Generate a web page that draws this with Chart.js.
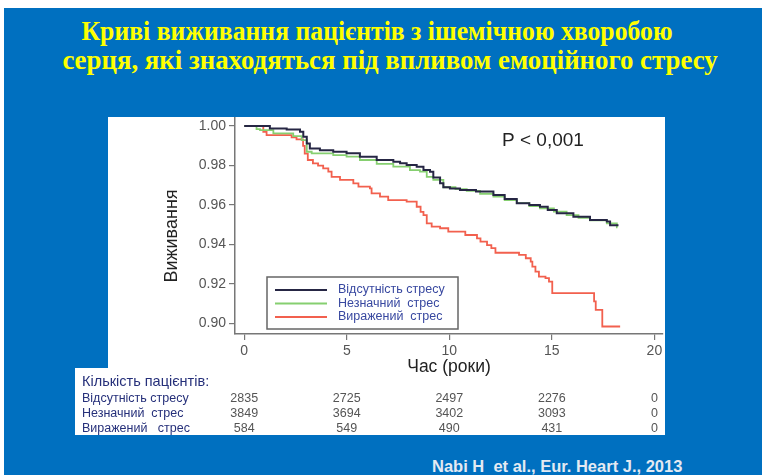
<!DOCTYPE html>
<html>
<head>
<meta charset="utf-8">
<script src="https://cdn.jsdelivr.net/npm/chart.js@4"></script>
<style>
  body { margin:0; width:762px; height:475px; overflow:hidden; position:relative; background:#fff; font-family:Arial, "Liberation Sans", sans-serif; }
  #slide { position:absolute; left:4px; top:8px; width:758px; height:467px; background:#0070c0; }
  .title { position:absolute; width:762px; text-align:center; color:#ffff00; font:bold 28px "Liberation Serif", "Times New Roman", serif; line-height:30px; white-space:nowrap; transform-origin:50% 50%; }
  .panel { position:absolute; background:#fff; }
  #chartBox { position:absolute; left:108px; top:117px; }
  .tbl { position:absolute; white-space:pre; color:#26307a; }
  .num { position:absolute; width:50px; margin-left:-25px; text-align:center; color:#555; font-size:12.5px; }
  #cite { position:absolute; left:432px; top:457px; color:#e4eaf2; font:bold 16.5px Arial, "Liberation Sans", sans-serif; white-space:pre; }
</style>
</head>
<body>
<div id="slide"></div>
<div class="title" style="left:-4px;top:16px;transform:scaleX(0.918)">Криві виживання пацієнтів з ішемічною хворобою</div>
<div class="title" style="left:9px;top:45px;transform:scaleX(0.958)">серця, які знаходяться під впливом емоційного стресу</div>
<div class="panel" style="left:108px;top:117px;width:557px;height:251px"></div>
<div class="panel" style="left:75px;top:368px;width:590px;height:67px"></div>
<div id="chartBox"><canvas id="km" width="557" height="265"></canvas></div>
<div id="table"></div>
<div id="cite">Nabi H  et al., Eur. Heart J., 2013</div>
<script>
// time in years, survival
const noStressT = [0, 1.25, 2.07, 2.72, 2.88, 3.05, 3.2, 3.69, 4.34, 4.99, 5.64, 6.46, 7.27, 7.6, 7.92, 8.41, 8.74, 9.06, 9.22, 9.55, 9.71, 10.03, 10.52, 11.3, 12.15, 12.7, 13.29, 13.9, 14.42, 14.8, 15.24, 16.05, 16.86, 17.68, 17.84, 18.25];
const noStressS = [1.0, 0.9988, 0.9983, 0.9971, 0.9946, 0.9912, 0.9887, 0.9878, 0.9870, 0.9862, 0.9845, 0.9828, 0.9819, 0.9811, 0.9803, 0.9794, 0.9777, 0.9769, 0.9740, 0.9710, 0.9690, 0.9684, 0.9676, 0.9668, 0.9651, 0.9630, 0.9609, 0.9600, 0.9591, 0.9575, 0.9558, 0.9541, 0.9524, 0.9516, 0.9497, 0.9497];

const mildT = [0, 0.6, 0.77, 1.42, 2.39, 2.8, 3.05, 3.29, 4.34, 4.99, 5.64, 6.46, 7.27, 8.08, 8.57, 8.9, 9.22, 9.71, 10.3, 10.85, 11.5, 12.15, 12.7, 13.29, 13.9, 14.42, 15.1, 15.72, 16.3, 16.86, 17.68, 18.17, 18.2];
const mildS = [1.0, 0.9985, 0.9980, 0.9963, 0.9949, 0.9929, 0.9870, 0.9862, 0.9853, 0.9845, 0.9828, 0.9808, 0.9794, 0.9777, 0.9769, 0.9743, 0.9727, 0.9690, 0.9680, 0.9672, 0.9657, 0.9642, 0.9625, 0.9609, 0.9595, 0.9583, 0.9566, 0.9549, 0.9535, 0.9522, 0.9507, 0.9487, 0.9487];

const severeT = [0, 0.93, 1.09, 2.31, 2.55, 2.87, 2.95, 3.1, 3.35, 3.6, 3.85, 4.1, 4.26, 4.67, 5.32, 5.57, 6.13, 6.21, 6.62, 7.02, 7.92, 8.41, 8.6, 8.74, 8.9, 9.14, 9.55, 9.95, 10.78, 11.35, 11.52, 11.84, 12.05, 12.25, 13.4, 13.73, 13.97, 14.05, 14.2, 14.37, 14.69, 14.86, 15.02, 17.06, 17.14, 17.46, 18.33];
const severeS = [1.0, 0.9971, 0.9954, 0.9943, 0.9933, 0.9900, 0.9860, 0.9828, 0.9811, 0.9800, 0.9786, 0.9769, 0.9743, 0.9727, 0.9710, 0.9693, 0.9684, 0.9659, 0.9642, 0.9625, 0.9617, 0.9591, 0.9565, 0.9549, 0.9507, 0.9490, 0.9482, 0.9465, 0.9448, 0.9431, 0.9414, 0.9397, 0.9381, 0.9358, 0.9347, 0.9330, 0.9313, 0.9288, 0.9262, 0.9237, 0.9229, 0.9212, 0.9153, 0.9111, 0.9068, 0.8984, 0.8984];

const groupLabels = ['Відсутність стресу', 'Незначний  стрес', 'Виражений  стрес'];
const xTicks = [0, 5, 10, 15, 20];
const yTicks = [0.90, 0.92, 0.94, 0.96, 0.98, 1.00];
const xTitle = 'Час (роки)';
const yTitle = 'Виживання    ';  // trailing spaces nudge the rotated title down a bit
const pLabel = 'P < 0,001';

// numbers at risk
const riskTitle = 'Кількість пацієнтів:';
const riskLabels = ['Відсутність стресу', 'Незначний  стрес', 'Виражений   стрес'];
const riskNoStress = [2835, 2725, 2497, 2276, 0];
const riskMild = [3849, 3694, 3402, 3093, 0];
const riskSevere = [584, 549, 490, 431, 0];

Chart.defaults.font.family = 'Arial, "Liberation Sans", sans-serif';

function pts(t, s) {
  return t.map((x, i) => ({x: x, y: s[i]}));
}

const legendBox = {
  id: 'legendBox',
  afterDatasetsDraw(chart) {
    const ctx = chart.ctx;
    const a = chart.chartArea;
    ctx.save();
    ctx.fillStyle = '#222';
    ctx.font = '19px Arial, "Liberation Sans", sans-serif';
    ctx.textBaseline = 'middle';
    ctx.fillText(pLabel, a.left + 267, a.top + 23);

    const bx = a.left + 32, by = a.top + 159, bw = 191, bh = 52;
    ctx.fillStyle = '#fff';
    ctx.fillRect(bx, by, bw, bh);
    ctx.strokeStyle = '#666';
    ctx.lineWidth = 1.5;
    ctx.strokeRect(bx, by, bw, bh);
    ctx.font = '12.5px Arial, "Liberation Sans", sans-serif';
    chart.data.datasets.forEach((ds, i) => {
      const y = by + 13 + i * 13.5;
      ctx.strokeStyle = ds.borderColor;
      ctx.lineWidth = 2;
      ctx.beginPath();
      ctx.moveTo(bx + 8, y);
      ctx.lineTo(bx + 60, y);
      ctx.stroke();
      ctx.fillStyle = '#3848a0';
      ctx.fillText(ds.label, bx + 71, y);
    });
    ctx.restore();
  }
};

const chart = new Chart(document.getElementById('km'), {
  type: 'line',
  data: {
    datasets: [
      { label: groupLabels[0], data: pts(noStressT, noStressS), borderColor: '#262644', borderWidth: 2 },
      { label: groupLabels[1], data: pts(mildT, mildS), borderColor: '#86cf70', borderWidth: 1.8 },
      { label: groupLabels[2], data: pts(severeT, severeS), borderColor: '#f2604e', borderWidth: 1.8 }
    ]
  },
  options: {
    responsive: false,
    animation: false,
    layout: { padding: { top: 1, right: 2, left: 0, bottom: 0 } },
    elements: { point: { radius: 0 }, line: { stepped: true, fill: false } },
    plugins: { legend: { display: false }, tooltip: { enabled: false } },
    scales: {
      x: {
        type: 'linear',
        min: -0.45,
        max: 20.42,
        afterBuildTicks: (s) => { s.ticks = xTicks.map((v) => ({value: v})); },
        afterFit: (s) => { s.height = 48; s.paddingLeft = 0; s.paddingRight = 0; },
        grid: { drawOnChartArea: false, drawTicks: true, tickLength: 6, color: '#777', lineWidth: 1.2 },
        border: { display: true, color: '#777', width: 1.5 },
        ticks: { color: '#555', font: { size: 14 }, padding: 3, maxRotation: 0, autoSkip: false },
        title: { display: true, text: xTitle, color: '#222', font: { size: 17.5 }, padding: { top: 0, bottom: 4 } }
      },
      y: {
        min: 0.8946,
        max: 1.0041,
        afterBuildTicks: (s) => { s.ticks = yTicks.map((v) => ({value: v})); },
        afterFit: (s) => { s.width = 127; s.paddingTop = 0; s.paddingBottom = 0; },
        grid: { drawOnChartArea: false, drawTicks: true, tickLength: 6, color: '#777', lineWidth: 1.2 },
        border: { display: true, color: '#777', width: 1.5 },
        ticks: { color: '#555', font: { size: 14 }, padding: 3, autoSkip: false, callback: (v) => Number(v).toFixed(2) },
        title: { display: true, text: yTitle, color: '#222', font: { size: 18 }, padding: { top: 53, bottom: 0 } }
      }
    }
  },
  plugins: [legendBox]
});

// numbers-at-risk table, columns aligned to the x scale
const table = document.getElementById('table');
function addText(cls, text, left, top, style) {
  const d = document.createElement('div');
  d.className = cls;
  d.textContent = text;
  d.style.left = left + 'px';
  d.style.top = top + 'px';
  if (style) d.style.cssText += style;
  table.appendChild(d);
}
addText('tbl', riskTitle, 82, 373, 'font-size:14.5px;');
const rows = [riskNoStress, riskMild, riskSevere];
const xs = chart.scales.x;
rows.forEach((row, r) => {
  const top = 391 + r * 15;
  addText('tbl', riskLabels[r], 82, top, 'font-size:12.5px;');
  row.forEach((n, i) => {
    addText('num', String(n), 108 + xs.getPixelForValue(xTicks[i]), top);
  });
});
</script>
</body>
</html>
